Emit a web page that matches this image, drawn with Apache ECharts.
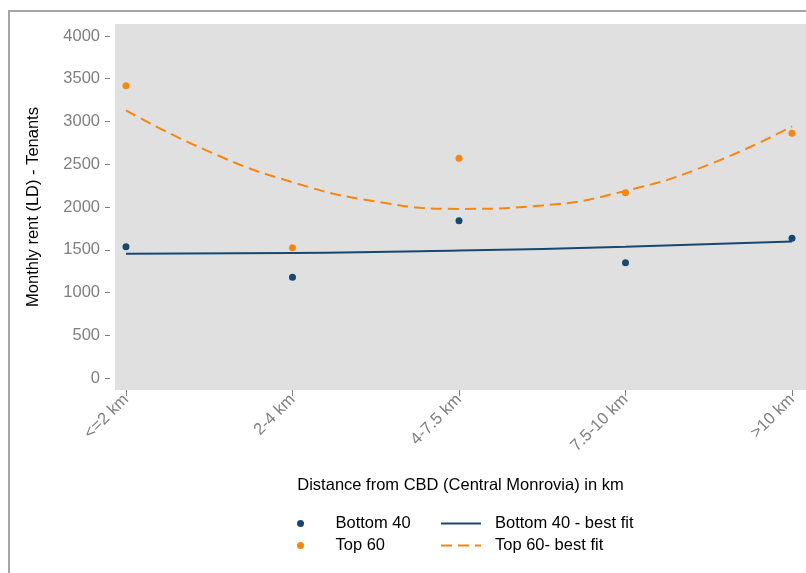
<!DOCTYPE html>
<html>
<head>
<meta charset="utf-8">
<script src="https://cdn.jsdelivr.net/npm/echarts@6/dist/echarts.min.js"></script>
<style>
html,body{margin:0;padding:0;background:#fff;}
#chart{width:806px;height:573px;}
</style>
</head>
<body>
<div id="chart"></div>
<script>
// ---- data ----
const categories = ['<=2 km', '2-4 km', '4-7.5 km', '7.5-10 km', '>10 km'];
const categoryIndex = [0, 1, 2, 3, 4];
const bottom40 = [1536, 1178, 1840, 1349, 1634];
const top60 = [3419, 1524, 2569, 2168, 2862];
const bottomFitX = [0, 1, 2, 3, 4];
const bottomFitY = [1453, 1461, 1490, 1535, 1598];
const topFitX = [0, 0.5, 1, 1.5, 2, 2.5, 3, 3.5, 4];
const topFitY = [3130, 2647, 2290, 2065, 1978, 2018, 2188, 2495, 2942];
const yTicks = [0, 500, 1000, 1500, 2000, 2500, 3000, 3500, 4000];

const NAVY = '#1a476f';
const ORANGE = '#f7860f';
const FONT = '"Liberation Sans", Arial, sans-serif';
const FS = 16.5;

const zip = (xs, ys) => xs.map((x, i) => [x, ys[i]]);

const chart = echarts.init(document.getElementById('chart'), null, {renderer: 'canvas'});
chart.setOption({
  animation: false,
  backgroundColor: '#ffffff',
  textStyle: {fontFamily: FONT},
  graphic: [{
    type: 'rect',
    shape: {x: 9, y: 11, width: 900, height: 700},
    style: {fill: 'none', stroke: '#a6a6a6', lineWidth: 2},
    silent: true, z: -1
  }],
  grid: {
    left: 115, top: 24, right: 0, bottom: 183,
    show: true, backgroundColor: '#e0e0e0', borderWidth: 0
  },
  xAxis: {
    type: 'value',
    min: -0.066, max: 4.084,
    axisLine: {show: false, onZero: false},
    splitLine: {show: false},
    axisTick: {show: true, length: 6, lineStyle: {color: '#808080', width: 1}, customValues: categoryIndex},
    axisLabel: {
      customValues: categoryIndex,
      rotate: 45, margin: 7,
      color: '#7f7f7f', fontSize: FS, fontFamily: FONT,
      formatter: v => categories[Math.round(v)]
    },
    name: 'Distance from CBD (Central Monrovia) in km',
    nameLocation: 'middle', nameGap: 87,
    nameTextStyle: {color: '#000', fontSize: FS, fontFamily: FONT}
  },
  yAxis: {
    type: 'value',
    min: -140, max: 4140,
    offset: 5,
    axisLine: {show: false, onZero: false},
    splitLine: {show: false},
    axisTick: {show: true, length: 5, lineStyle: {color: '#808080', width: 1}, customValues: yTicks},
    axisLabel: {customValues: yTicks, margin: 10, color: '#7f7f7f', fontSize: FS, fontFamily: FONT,
      formatter: v => String(v)},
    name: 'Monthly rent (LD) - Tenants',
    nameLocation: 'middle', nameGap: 68,
    nameTextStyle: {color: '#000', fontSize: FS, fontFamily: FONT}
  },
  legend: [{
    orient: 'vertical', left: 292, top: 510,
    itemWidth: 60, itemHeight: 7, itemGap: 5,
    data: [{name: 'Bottom 40', icon: 'circle'}, {name: 'Top 60', icon: 'circle'}],
    textStyle: {color: '#000', fontSize: FS, fontFamily: FONT}
  }, {
    orient: 'vertical', left: 435, top: 510,
    itemWidth: 40, itemHeight: 7, itemGap: 5,
    itemStyle: {opacity: 0},
    data: ['Bottom 40 - best fit', 'Top 60- best fit'],
    textStyle: {color: '#000', fontSize: FS, fontFamily: FONT, padding: [0, 0, 0, 9]}
  }],
  series: [{
    name: 'Bottom 40 - best fit', type: 'line', smooth: true, symbol: 'none', showSymbol: false,
    data: zip(bottomFitX, bottomFitY),
    lineStyle: {color: NAVY, width: 2}, itemStyle: {color: NAVY}, z: 2
  }, {
    name: 'Top 60- best fit', type: 'line', smooth: true, symbol: 'none', showSymbol: false,
    data: zip(topFitX, topFitY),
    lineStyle: {color: ORANGE, width: 2, type: [11, 6]}, itemStyle: {color: ORANGE}, z: 2
  }, {
    name: 'Bottom 40', type: 'scatter', symbol: 'circle', symbolSize: 7,
    data: zip(categoryIndex, bottom40), itemStyle: {color: NAVY, opacity: 1}, z: 3
  }, {
    name: 'Top 60', type: 'scatter', symbol: 'circle', symbolSize: 7,
    data: zip(categoryIndex, top60), itemStyle: {color: ORANGE, opacity: 1}, z: 3
  }]
});
</script>
</body>
</html>
